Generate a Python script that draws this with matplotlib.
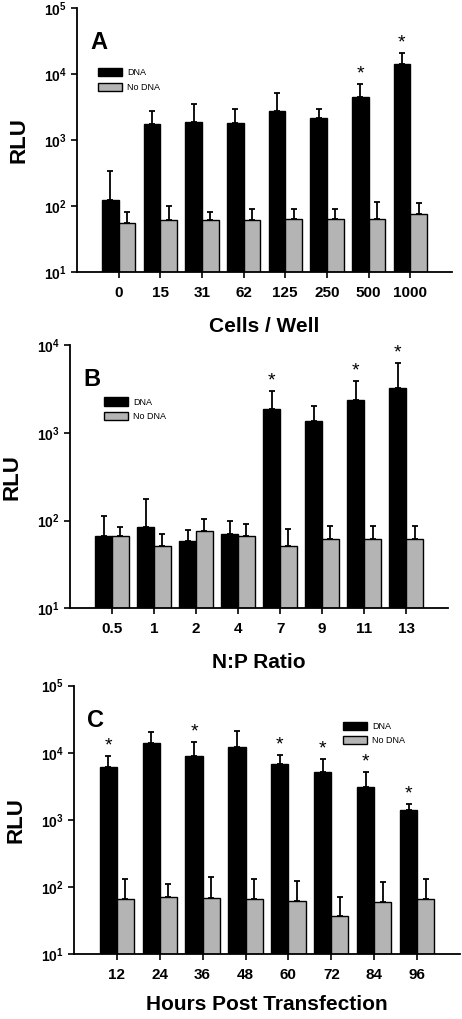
import numpy as np
import matplotlib
matplotlib.use('Agg')
import matplotlib.pyplot as plt
from matplotlib.patches import Patch

plt.rcParams['font.family'] = ['Liberation Sans', 'DejaVu Sans']
plt.rcParams['mathtext.fontset'] = 'custom'
plt.rcParams['mathtext.rm'] = 'Liberation Sans:bold'
plt.rcParams['mathtext.it'] = 'Liberation Sans:bold'
plt.rcParams['mathtext.bf'] = 'Liberation Sans:bold'

GRAY = '#b4b4b4'

# panel A: cells per well
cells = ['0', '15', '31', '62', '125', '250', '500', '1000']
a_dna = [122, 1730, 1890, 1810, 2780, 2200, 4570, 14200]
a_dna_err = [340, 2800, 3550, 2950, 5250, 2950, 7100, 21000]
a_nodna = [56, 61, 61, 61, 64, 64, 64, 75]
a_nodna_err = [82, 99, 82, 89, 89, 89, 115, 110]
a_star = [False, False, False, False, False, False, True, True]

# panel B: N:P ratio
ratios = ['0.5', '1', '2', '4', '7', '9', '11', '13']
b_dna = [66, 85, 59, 71, 1880, 1360, 2340, 3270]
b_dna_err = [114, 176, 78, 98, 3020, 2020, 3930, 6300]
b_nodna = [66, 51, 76, 66, 51, 61, 61, 61]
b_nodna_err = [85, 71, 104, 91, 81, 87, 87, 87]
b_star = [False, False, False, False, True, False, True, True]

# panel C: hours post transfection
hours = ['12', '24', '36', '48', '60', '72', '84', '96']
c_dna = [6170, 13900, 8980, 12200, 6740, 5260, 3130, 1430]
c_dna_err = [8870, 20200, 14500, 21400, 9290, 8190, 5260, 1730]
c_nodna = [66, 72, 69, 66, 63, 37, 60, 66]
c_nodna_err = [134, 110, 142, 134, 123, 72, 118, 134]
c_star = [True, False, True, False, True, True, True, True]


def panel(ax, labels, dna, dna_top, nodna, nodna_top, stars, ytop,
          letter, xlabel, leg_xy, xpad=12):
    x = np.arange(len(labels))
    w = 0.4
    dna = np.array(dna, float)
    nodna = np.array(nodna, float)
    ax.bar(x - w / 2, dna, w, color='black', edgecolor='black', linewidth=1)
    ax.bar(x + w / 2, nodna, w, color=GRAY, edgecolor='black', linewidth=1)
    ekw = dict(fmt='none', ecolor='black', elinewidth=1.3, capsize=2.5,
               capthick=1.3)
    ax.errorbar(x - w / 2, dna, yerr=[np.zeros_like(dna), np.array(dna_top) - dna], **ekw)
    ax.errorbar(x + w / 2, nodna, yerr=[np.zeros_like(nodna), np.array(nodna_top) - nodna], **ekw)
    for xi, top, s in zip(x, dna_top, stars):
        if s:
            ax.annotate('*', (xi - w / 2, top), xytext=(0, 1),
                        textcoords='offset points', ha='center', va='bottom',
                        fontsize=14)
    ax.set_yscale('log')
    ax.set_ylim(10, ytop)
    ax.set_xlim(-1, len(labels))
    ax.set_xticks(x)
    ax.set_xticklabels(labels, fontsize=11, fontweight='bold')
    ticks = [10 ** k for k in range(1, int(np.log10(ytop)) + 1)]
    ax.set_yticks(ticks)
    ax.set_yticklabels(['$10^{%d}$' % int(np.log10(t)) for t in ticks],
                       fontsize=10)
    ax.minorticks_off()
    ax.tick_params(axis='both', direction='out', length=4, width=1.2)
    ax.tick_params(axis='x', pad=6)
    for s in ['top', 'right']:
        ax.spines[s].set_visible(False)
    for s in ['left', 'bottom']:
        ax.spines[s].set_linewidth(1.3)
    ax.set_ylabel('RLU', fontsize=16, fontweight='bold', labelpad=10)
    ax.set_xlabel(xlabel, fontsize=15, fontweight='bold', labelpad=xpad)
    ax.text(0.035, 0.87, letter, transform=ax.transAxes, fontsize=17,
            fontweight='bold', ha='left', va='center')
    handles = [Patch(facecolor='black', edgecolor='black', label='DNA'),
               Patch(facecolor=GRAY, edgecolor='black', label='No DNA')]
    ax.legend(handles=handles, loc='upper left', bbox_to_anchor=leg_xy,
              frameon=False, fontsize=6.5, borderpad=0, handlelength=2.7,
              handleheight=1.0, labelspacing=0.6, handletextpad=0.6)


fig = plt.figure(figsize=(4.62, 10.19), dpi=100)
ax_a = fig.add_axes([0.1667, 0.733, 0.8113, 0.259])
ax_b = fig.add_axes([0.1515, 0.403, 0.8185, 0.2584])
ax_c = fig.add_axes([0.160, 0.0635, 0.8357, 0.2636])

panel(ax_a, cells, a_dna, a_dna_err, a_nodna, a_nodna_err, a_star, 1e5,
      'A', 'Cells / Well', (0.043, 0.79))
panel(ax_b, ratios, b_dna, b_dna_err, b_nodna, b_nodna_err, b_star, 1e4,
      'B', 'N:P Ratio', (0.077, 0.818))
panel(ax_c, hours, c_dna, c_dna_err, c_nodna, c_nodna_err, c_star, 1e5,
      'C', 'Hours Post Transfection', (0.684, 0.883), xpad=9)

fig.savefig('out.png', dpi=100)
